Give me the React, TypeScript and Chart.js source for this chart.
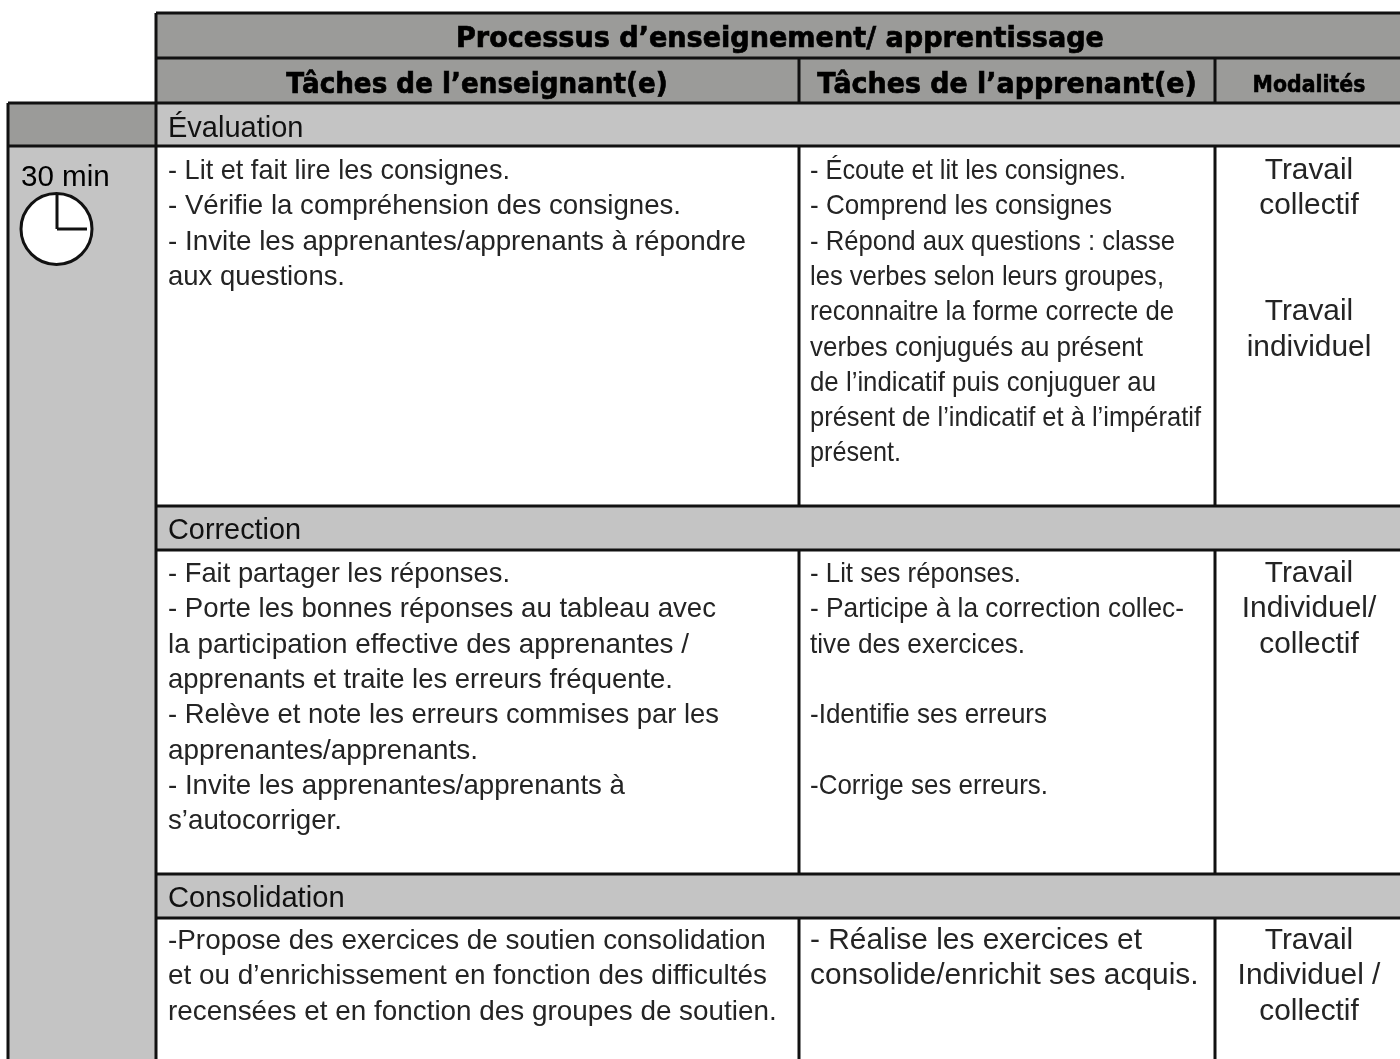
import React, { useEffect, useRef } from "react";
import { Chart, registerables } from "chart.js";
Chart.register(...registerables);

const W = 1400;
const H = 1059;

// table text
const title = "Processus d’enseignement/ apprentissage";
const colHeads = ["Tâches de l’enseignant(e)", "Tâches de l’apprenant(e)", "Modalités"];
const sections = ["Évaluation", "Correction", "Consolidation"];
const duration = "30 min";
const teacherEval = [
  "- Lit et fait lire les consignes.",
  "- Vérifie la compréhension des consignes.",
  "- Invite les apprenantes/apprenants à répondre",
  "aux questions.",
];
const learnerEval = [
  "- Écoute et lit les consignes.",
  "- Comprend les consignes",
  "- Répond aux questions : classe",
  "les verbes selon leurs groupes,",
  "reconnaitre la forme correcte de",
  "verbes conjugués au présent",
  "de l’indicatif puis conjuguer au",
  "présent de l’indicatif et à l’impératif",
  "présent.",
];
const modalEval = ["Travail", "collectif", "", "", "Travail", "individuel"];
const teacherCorr = [
  "- Fait partager les réponses.",
  "- Porte les bonnes réponses au tableau avec",
  "la participation effective des apprenantes /",
  "apprenants et traite les erreurs fréquente.",
  "- Relève et note les erreurs commises par les",
  "apprenantes/apprenants.",
  "- Invite les apprenantes/apprenants à",
  "s’autocorriger.",
];
const learnerCorr = [
  "- Lit ses réponses.",
  "- Participe à la correction collec-",
  "tive des exercices.",
  "",
  "-Identifie ses erreurs",
  "",
  "-Corrige ses erreurs.",
];
const modalCorr = ["Travail", "Individuel/", "collectif"];
const teacherCons = [
  "-Propose des exercices de soutien consolidation",
  "et ou d’enrichissement en fonction des difficultés",
  "recensées et en fonction des groupes de soutien.",
];
const learnerCons = ["- Réalise les exercices et", "consolide/enrichit ses acquis."];
const modalCons = ["Travail", "Individuel /", "collectif"];

// table grid
const xEdges = [8, 156, 799, 1215, 1400];
const yEdges = [13, 58, 103, 146, 506, 550, 874, 918, 1059];

const rect = (x0: number, y0: number, x1: number, y1: number) => [
  { x: x0, y: y0 }, { x: x1, y: y0 }, { x: x1, y: y1 }, { x: x0, y: y1 }, { x: x0, y: y0 },
];
const seg = (x0: number, y0: number, x1: number, y1: number) => [{ x: x0, y: y0 }, { x: x1, y: y1 }];

const DARK_FILL = "#9b9b99";
const LIGHT_FILL = "#c4c4c4";
const INK = "#111111";
const BODY_INK = "#242424";
const BODY = "'Liberation Sans'";
const HEAD = "'DejaVu Sans'";

type Block = { lines: string[]; x: number; y: number; lh: number; size: number; sx: number; ends?: number[]; align?: "left" | "center"; font?: string; weight?: string; color?: string; stroke?: number };

const [xL, xA, xB, xC, xR] = xEdges;
const [y0, y1, y2, y3, y4, y5, y6, y7, y8] = yEdges;

const blocks: Block[] = [
  { lines: [title], x: 780, y: 47, lh: 0, size: 28, sx: 0.967, align: "center", font: HEAD, weight: "bold", color: "#000", stroke: 0.7 },
  { lines: [colHeads[0]], x: 477, y: 93, lh: 0, size: 28, sx: 0.936, align: "center", font: HEAD, weight: "bold", color: "#000", stroke: 0.7 },
  { lines: [colHeads[1]], x: 1007, y: 93, lh: 0, size: 28, sx: 0.96, align: "center", font: HEAD, weight: "bold", color: "#000", stroke: 0.7 },
  { lines: [colHeads[2]], x: 1309, y: 92, lh: 0, size: 23, sx: 0.89, align: "center", font: HEAD, weight: "bold", color: "#000", stroke: 0.6 },
  { lines: [sections[0]], x: 168, y: 137, lh: 0, size: 29, sx: 1.0, color: INK },
  { lines: [sections[1]], x: 168, y: 539, lh: 0, size: 29, sx: 0.995, color: INK },
  { lines: [sections[2]], x: 168, y: 907, lh: 0, size: 29, sx: 1.005, color: INK },
  { lines: [duration], x: 21, y: 186, lh: 0, size: 29, sx: 1.02, color: "#000" },
  { lines: teacherEval, x: 168, y: 179, lh: 35.3, size: 28, sx: 1, ends: [510, 681, 746, 345] },
  { lines: learnerEval, x: 810, y: 179, lh: 35.3, size: 28, sx: 1, ends: [1126, 1112, 1175, 1164, 1174, 1143, 1156, 1201, 901] },
  { lines: modalEval, x: 1309, y: 179, lh: 35.3, size: 29, sx: 1.03, align: "center" },
  { lines: teacherCorr, x: 168, y: 582, lh: 35.3, size: 28, sx: 1, ends: [510, 716, 689, 673, 719, 478, 625, 342] },
  { lines: learnerCorr, x: 810, y: 582, lh: 35.3, size: 28, sx: 1, ends: [1021, 1184, 1025, 0, 1047, 0, 1048] },
  { lines: modalCorr, x: 1309, y: 582, lh: 35.3, size: 29, sx: 1.03, align: "center" },
  { lines: teacherCons, x: 168, y: 949, lh: 35.3, size: 28, sx: 0.995 },
  { lines: learnerCons, x: 810, y: 949, lh: 35.3, size: 29, sx: 1.03 },
  { lines: modalCons, x: 1309, y: 949, lh: 35.3, size: 29, sx: 1.03, align: "center" },
];

const textPlugin = {
  id: "tableText",
  afterDatasetsDraw(chart: any) {
    const { ctx, scales } = chart;
    for (const b of blocks) {
      ctx.save();
      ctx.fillStyle = b.color || BODY_INK;
      ctx.strokeStyle = b.color || BODY_INK;
      ctx.font = `${b.weight || "normal"} ${b.size}px ${b.font || BODY}`;
      ctx.textAlign = b.align || "left";
      ctx.textBaseline = "alphabetic";
      b.lines.forEach((line, i) => {
        if (!line) return;
        const sx = b.ends ? (b.ends[i] - b.x) / ctx.measureText(line).width : b.sx;
        ctx.save();
        ctx.translate(scales.x.getPixelForValue(b.x), scales.y.getPixelForValue(b.y + i * b.lh));
        ctx.scale(sx, 1);
        ctx.fillText(line, 0, 0);
        if (b.stroke) {
          ctx.lineWidth = b.stroke;
          ctx.strokeText(line, 0, 0);
        }
        ctx.restore();
      });
      ctx.restore();
    }
  },
};

const fillSet = (data: any[], color: string, order: number) => ({
  data, showLine: true, fill: "shape", backgroundColor: color, borderWidth: 0, borderColor: color, pointRadius: 0, tension: 0, order, clip: false,
});
const lineSet = (data: any[], order: number, width = 3) => ({
  data, showLine: true, fill: false, borderColor: INK, borderWidth: width, pointRadius: 0, tension: 0, order, clip: false,
});

export default function App() {
  const ref = useRef<HTMLCanvasElement>(null);
  useEffect(() => {
    const chart = new Chart(ref.current!, {
      type: "scatter",
      data: {
        datasets: [
          // clock hands and face, on top
          lineSet(seg(57, 193, 57, 229), 1, 3),
          lineSet(seg(57, 229, 87, 229), 1, 3),
          { data: [{ x: 56.5, y: 229 }], pointRadius: 35.5, pointStyle: "circle", pointBackgroundColor: "#fff", pointBorderColor: INK, pointBorderWidth: 3, showLine: false, order: 2, clip: false },
          // rules
          lineSet(seg(xA, y0, xR, y0), 3),
          lineSet(seg(xA, y1, xR, y1), 3),
          lineSet(seg(xL, y2, xR, y2), 3),
          lineSet(seg(xL, y3, xR, y3), 3),
          lineSet(seg(xA, y4, xR, y4), 3),
          lineSet(seg(xA, y5, xR, y5), 3),
          lineSet(seg(xA, y6, xR, y6), 3),
          lineSet(seg(xA, y7, xR, y7), 3),
          lineSet(seg(xL, y2, xL, y8), 3),
          lineSet(seg(xA, y0, xA, y8), 3),
          lineSet(seg(xB, y1, xB, y2), 3),
          lineSet(seg(xC, y1, xC, y2), 3),
          lineSet(seg(xB, y3, xB, y4), 3),
          lineSet(seg(xC, y3, xC, y4), 3),
          lineSet(seg(xB, y5, xB, y6), 3),
          lineSet(seg(xC, y5, xC, y6), 3),
          lineSet(seg(xB, y7, xB, y8), 3),
          lineSet(seg(xC, y7, xC, y8), 3),
          // fills
          fillSet(rect(xA, y0, xR, y2), DARK_FILL, 4),
          fillSet(rect(xL, y2, xA, y3), DARK_FILL, 4),
          fillSet(rect(xA, y2, xR, y3), LIGHT_FILL, 4),
          fillSet(rect(xL, y3, xA, y8), LIGHT_FILL, 4),
          fillSet(rect(xA, y4, xR, y5), LIGHT_FILL, 4),
          fillSet(rect(xA, y6, xR, y7), LIGHT_FILL, 4),
        ] as any,
      },
      options: {
        animation: false,
        responsive: false,
        layout: { padding: 0, autoPadding: false },
        plugins: { legend: { display: false }, tooltip: { enabled: false } },
        scales: {
          x: { type: "linear", display: false, min: 0, max: W },
          y: { type: "linear", display: false, min: 0, max: H, reverse: true },
        },
      },
      plugins: [textPlugin],
    });
    return () => chart.destroy();
  }, []);
  return <canvas ref={ref} width={W} height={H} style={{ position: "absolute", left: 0, top: 0, display: "block" }} />;
}
